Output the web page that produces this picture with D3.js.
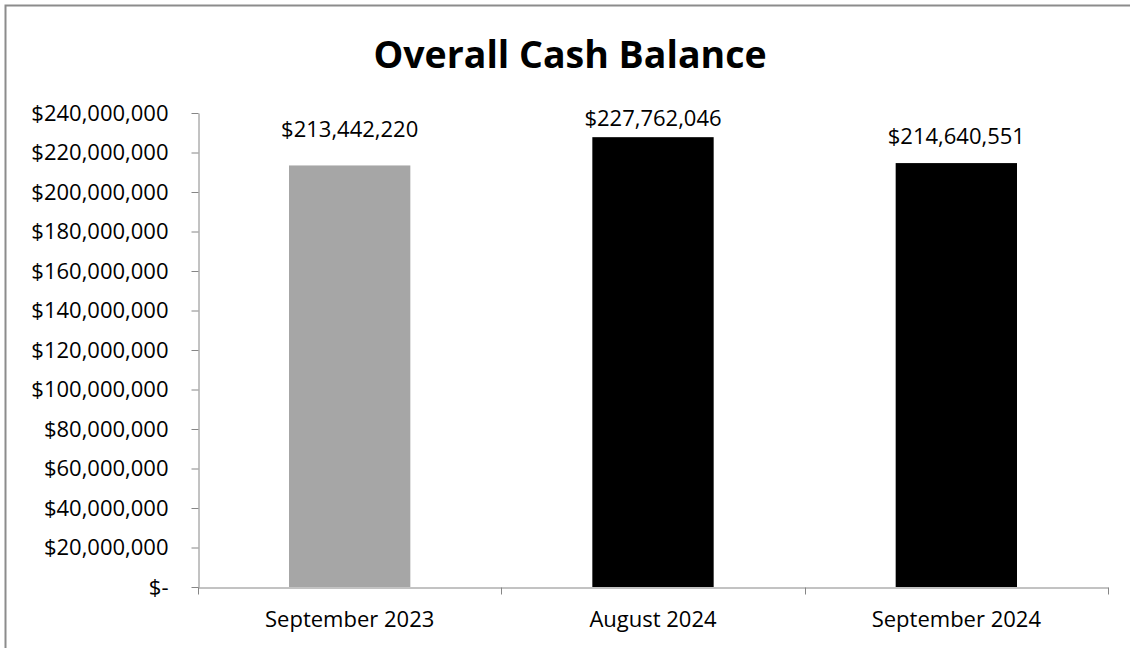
<!DOCTYPE html>
<html>
<head>
	<meta charset="utf-8">
	<title>Overall Cash Balance</title>
	<style type="text/css">
		html, body {
			margin: 0;
			background: #fff;
			overflow: hidden;
		}

		svg {
			display: block;
		}

		svg text {
			font-family: "Open Sans", sans-serif;
			fill: #000;
		}

		.axis path, .axis line {
			stroke: #868686;
		}

		.title {
			font-weight: bold;
		}
	</style>
	<script src="https://d3js.org/d3.v7.min.js"></script>
</head>
<body>
<svg class="vector" width="1130" height="648"></svg>
<script type="text/javascript">
	// data
	var categories = ["September 2023", "August 2024", "September 2024"];
	var balances = [213442220, 227762046, 214640551];
	var barColors = ["#a6a6a6", "#000000", "#000000"];
	var yTicks = [0, 20000000, 40000000, 60000000, 80000000, 100000000, 120000000,
		140000000, 160000000, 180000000, 200000000, 220000000, 240000000];

	// the data labels were nudged by hand in the original, so each gets its own lift
	var labelLift = [28, 11, 19];

	var svg = d3.select("svg");

	var margin = {top: 113, right: 22, bottom: 61, left: 198},
		width = +svg.attr("width") - margin.left - margin.right,
		height = +svg.attr("height") - margin.top - margin.bottom;

	// outer chart border: only the top and left edges are inside the crop
	svg.append("path")
		.attr("d", "M5.5,648V5.5H1130")
		.attr("fill", "none")
		.attr("stroke", "#8c8c8c")
		.attr("stroke-width", 2);

	svg.append("text")
		.attr("class", "title")
		.attr("x", 570)
		.attr("y", 68)
		.attr("text-anchor", "middle")
		.style("font-size", "37.5px")
		.text("Overall Cash Balance");

	var x = d3.scaleBand().domain(categories).range([0, width]).padding(0),
		y = d3.scaleLinear().domain([0, 240000000]).range([height, 0]);

	var money = function(d) {
		return d === 0 ? "$-" : "$" + d3.format(",")(d);
	};

	var g = svg.append("g")
		.attr("transform", "translate(" + margin.left + "," + margin.top + ")");

	var barW = x.bandwidth() * 0.4;

	g.selectAll(".bar")
		.data(balances)
		.enter().append("rect")
			.attr("class", "bar")
			.attr("x", function(d, i) { return x(categories[i]) + (x.bandwidth() - barW) / 2; })
			.attr("y", function(d) { return y(d); })
			.attr("width", barW)
			.attr("height", function(d) { return height - y(d); })
			.attr("fill", function(d, i) { return barColors[i]; });

	// y axis
	var yAxis = g.append("g")
		.attr("class", "y axis")
		.attr("transform", "translate(0.5,0)")
		.call(d3.axisLeft(y).tickValues(yTicks).tickFormat(money).tickSize(7).tickSizeOuter(0).tickPadding(23));
	yAxis.selectAll("text").style("font-size", "22px");

	// x axis: labels centred in each category, tick marks on the boundaries
	var xAxis = g.append("g")
		.attr("class", "x axis")
		.attr("transform", "translate(0," + (height + 0.5) + ")")
		.call(d3.axisBottom(x).tickSize(0).tickSizeOuter(0).tickPadding(39));
	xAxis.selectAll("text")
		.attr("dy", "0")
		.style("font-size", "22px");

	var bounds = categories.map(function(c) { return x(c); }).concat([x.range()[1]]);
	xAxis.selectAll(".bound")
		.data(bounds)
		.enter().append("line")
			.attr("class", "bound")
			.attr("x1", function(d) { return Math.round(d) + 0.5; })
			.attr("x2", function(d) { return Math.round(d) + 0.5; })
			.attr("y1", 0)
			.attr("y2", 7);

	g.selectAll(".value")
		.data(balances)
		.enter().append("text")
			.attr("class", "value")
			.attr("x", function(d, i) { return x(categories[i]) + x.bandwidth() / 2; })
			.attr("y", function(d, i) { return y(d) - labelLift[i]; })
			.attr("text-anchor", "middle")
			.style("font-size", "22px")
			.text(function(d) { return "$" + d3.format(",")(d); });
</script>
</body>
</html>
